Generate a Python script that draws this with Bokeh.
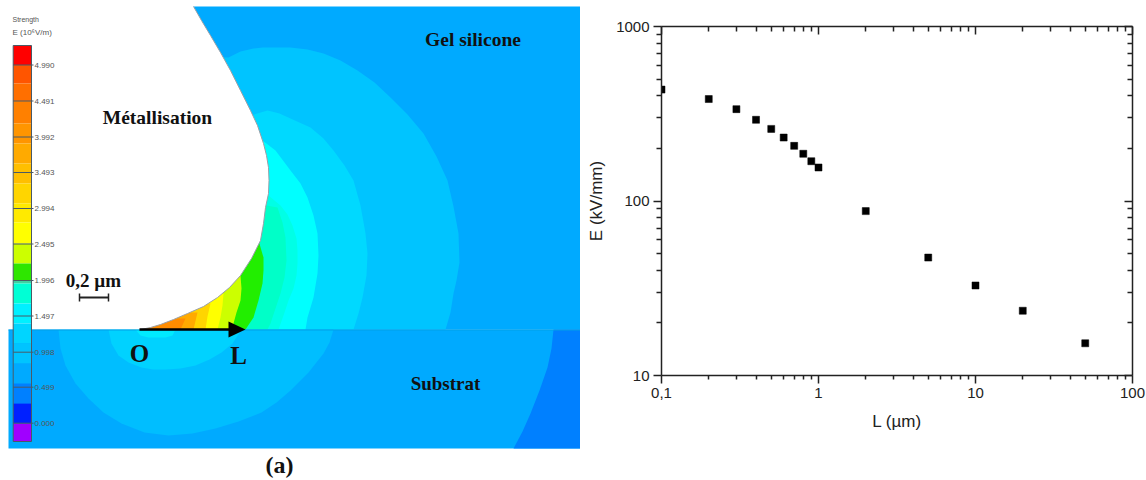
from bokeh.plotting import figure
from bokeh.layouts import row
from bokeh.models import Range1d, LogAxis, FixedTicker, Label
from bokeh.embed import file_html
from bokeh.resources import INLINE

# ---------- panel (b) data ----------
L_um = [0.1, 0.2, 0.3, 0.4, 0.5, 0.6, 0.7, 0.8, 0.9, 1, 2, 5, 10, 20, 50]
E_kV_mm = [435, 384, 336, 292, 259, 231, 207, 186.5, 169, 155.6, 87.5, 47.4, 32.8, 23.5, 15.3]
x_major = [0.1, 1, 10, 100]
x_labels = ["0,1", "1", "10", "100"]
y_major = [10, 100, 1000]
y_labels = ["10", "100", "1000"]
mantissas = [2, 3, 4, 5, 6, 7, 8, 9]

# ---------- panel (a): colour scale ----------
scale_labels = ["4.990", "4.491", "3.992", "3.493", "2.994", "2.495", "1.996", "1.497", "0.998", "0.499", "0.000"]
scale_label_y = [64.5, 100.5, 136.5, 172, 208, 243.5, 280, 315.5, 351.7, 386.7, 422.7]
band_edges = [45, 64.5, 83, 100.5, 123, 143, 163, 183, 203, 222, 243, 263, 280, 283, 303, 323, 343, 363, 383, 403, 423, 441]
band_colors = ["#FF0000", "#FF5500", "#FF6F00", "#FF8000", "#FF9500", "#FFAA00", "#FFBF00", "#FFD500",
               "#FFEA00", "#FFFF00", "#CCFF00", "#2EE600", "#40D0A0", "#00FFD5", "#00F0FF", "#00D5FF",
               "#00C4FF", "#00AAFF", "#0080FF", "#0020FF", "#A000FF"]

# ---------- panel (a): field regions (page pixels) ----------
gel_bands = [
    ("#00C4FF", [(130, 55), (228, 57), (240, 51), (253, 48), (262, 47), (290, 47), (307, 49), (323, 53), (340, 60), (357, 70),
                 (374, 82), (390, 97), (407, 114), (423, 133), (436, 156), (447, 180), (453, 206), (458, 233),
                 (459, 262), (456, 280), (453, 293), (450, 312), (445, 329), (130, 329)]),
    ("#00D9FF", [(130, 115), (250, 115), (267, 110), (279, 113), (290, 118), (310, 127), (323, 138), (333, 150),
                 (344, 165), (353, 180), (360, 205), (365, 233), (367, 253), (366, 275), (362, 297), (358, 313),
                 (353, 329), (130, 329)]),
    ("#00FFFF", [(130, 140), (262, 140), (275, 150), (290, 170), (300, 183), (307, 197), (313, 215), (317, 233),
                 (318, 255), (317, 273), (313, 297), (307, 317), (305, 329), (130, 329)]),
    ("#00FFE6", [(130, 190), (268, 195), (280, 205), (287, 214), (292, 225), (296, 238), (297, 250), (297, 263),
                 (296, 275), (293, 288), (288, 300), (283, 315), (278, 329), (130, 329)]),
    ("#00FFC8", [(130, 205), (266, 205), (277, 207), (282, 222), (285, 237), (286, 260), (284, 277), (280, 293),
                 (275, 308), (270, 323), (267, 329), (130, 329)]),
    ("#22EE00", [(130, 240), (258, 240), (263, 257), (263, 270), (262, 283), (258, 300), (253, 317), (245, 329), (130, 329)]),
    ("#CCFF00", [(130, 275), (240, 275), (241, 288), (240, 300), (236, 312), (233, 323), (232, 329), (130, 329)]),
    ("#FFFF00", [(130, 293), (223, 293), (222, 305), (220, 317), (217, 329), (130, 329)]),
    ("#FFD500", [(130, 303), (210, 303), (207, 316), (205, 329), (130, 329)]),
    ("#FFAA00", [(130, 312), (197, 312), (193, 329), (130, 329)]),
    ("#FF8C00", [(130, 318), (185, 318), (180, 329), (130, 329)]),
]
substrate_bands = [
    ("#0080FF", [(553, 329), (551, 348), (547, 367), (539, 390), (530, 413), (522, 431), (513, 448), (581, 448), (581, 329)]),
    ("#00BEFF", [(58, 329), (60, 348), (65, 365), (75, 383), (88, 398), (103, 412), (121, 423), (144, 432), (168, 435),
                 (192, 433), (215, 428), (238, 421), (261, 412), (276, 402), (290, 390), (308, 372), (323, 353),
                 (329, 342), (333, 329)]),
    ("#00D2FF", [(108, 329), (111, 343), (118, 355), (128, 362), (141, 367), (153, 369), (165, 369), (180, 368),
                 (195, 365), (209, 359), (221, 352), (232, 343), (241, 329)]),
    ("#00EAFF", [(135, 329), (140, 335), (148, 337), (165, 337), (172, 335), (175, 329)]),
]
metal_edge = [(193, 6), (201, 20), (210, 35), (220, 52), (230, 70), (240, 90), (250, 110), (257, 125),
              (263, 143), (266, 155), (268, 167), (268.5, 180), (268, 193), (265, 207), (263, 223), (260, 240),
              (251, 258), (240, 275), (229, 287), (217, 297), (203, 306), (187, 313), (173, 319), (160, 324),
              (150, 327), (140, 329)]
metal_corners = [(7, 329), (7, 5), (193, 5)]

H = 478
a = figure(width=580, height=H, frame_width=580, frame_height=H, x_range=Range1d(0, 580), y_range=Range1d(H, 0),
           x_axis_type=None, y_axis_type=None, toolbar_location=None, output_backend="svg", min_border=0,
           frame_align=False)
a.grid.visible = False
a.outline_line_color = None

a.quad(left=[8], right=[581], top=[6], bottom=[329], fill_color="#00AAFF", line_color=None)
a.quad(left=[8], right=[581], top=[329], bottom=[448], fill_color="#00AAFF", line_color=None)
for color, pts in gel_bands + substrate_bands:
    a.patch([q[0] for q in pts], [q[1] for q in pts], fill_color=color, line_color=None)
metal = metal_edge + metal_corners
a.patch([q[0] for q in metal], [q[1] for q in metal], fill_color="white", line_color=None)
a.line([q[0] for q in metal_edge], [q[1] for q in metal_edge], line_color="#9AA0A8", line_width=1)
a.line([8, 581], [329.5, 329.5], line_color="#00A0E8", line_width=1.2)

# colour scale
a.quad(left=[12.7] * len(band_colors), right=[31] * len(band_colors), top=band_edges[:-1], bottom=band_edges[1:],
       fill_color=band_colors, line_color=None)
a.quad(left=[12.7], right=[31], top=[45], bottom=[441], fill_color=None, line_color="#4A5A66", line_width=1)
for yy, lab in zip(scale_label_y, scale_labels):
    a.line([12.7, 33], [yy, yy], line_color="#4A5A66", line_width=1)
    a.add_layout(Label(x=34, y=yy, text=lab, text_font="Liberation Sans", text_font_size="8px",
                       text_color="#555555", text_baseline="middle"))
a.add_layout(Label(x=12, y=19, text="Strength", text_font="Liberation Sans", text_font_size="7px",
                   text_color="#555555", text_baseline="middle"))
a.add_layout(Label(x=12, y=32, text="E (10\u2076V/m)", text_font="Liberation Sans", text_font_size="8px",
                   text_color="#555555", text_baseline="middle"))

# arrow and scale bar
a.line([139, 232], [329, 329], line_color="black", line_width=2.5)
a.patch([228, 245, 228], [321, 329, 337], fill_color="black", line_color=None)
a.line([79, 108], [297, 297], line_color="#222222", line_width=2)
a.line([79, 79], [293, 301], line_color="#222222", line_width=1.5)
a.line([108, 108], [293, 301], line_color="#222222", line_width=1.5)

serif = [("Métallisation", 157, 117, "19.5px"), ("Gel silicone", 472.5, 39, "19.5px"), ("Substrat", 445, 383, "19px"),
         ("O", 139, 353, "25px"), ("L", 238, 355, "25px"), ("0,2 µm", 93, 280, "19px"), ("(a)", 279, 464, "24px")]
for txt, xx, yy, fs in serif:
    a.add_layout(Label(x=xx, y=yy, text=txt, text_font="Liberation Serif", text_font_style="bold", text_font_size=fs,
                       text_color="#111111", text_align="center", text_baseline="middle"))

# ---------- panel (b) ----------
b = figure(width=566, height=H, x_axis_type="log", y_axis_type="log", x_range=Range1d(0.1, 100), y_range=Range1d(10, 1000),
           toolbar_location=None, output_backend="svg", frame_width=471, frame_height=349,
           min_border_left=81, min_border_right=14, min_border_top=26, min_border_bottom=103,
           x_axis_label="L (µm)", y_axis_label="E (kV/mm)", frame_align=False)
b.grid.visible = False
b.outline_line_color = None
x_minor = [m * t for t in x_major[:-1] for m in mantissas]
y_minor = [m * t for t in y_major[:-1] for m in mantissas]
x_tick = FixedTicker(ticks=x_major, minor_ticks=x_minor)
y_tick = FixedTicker(ticks=y_major, minor_ticks=y_minor)

xa = b.xaxis[0]
ya = b.yaxis[0]
xa.ticker = x_tick
ya.ticker = y_tick
xa.major_label_overrides = dict(zip(x_major, x_labels))
ya.major_label_overrides = dict(zip(y_major, y_labels))
for ax in (xa, ya):
    ax.major_tick_in = 0
    ax.major_tick_out = 8
    ax.minor_tick_in = 0
    ax.minor_tick_out = 5
    ax.axis_line_width = 1.5
    ax.axis_line_color = "#222222"
    ax.major_tick_line_color = "#222222"
    ax.minor_tick_line_color = "#222222"
    ax.major_tick_line_width = 1.5
    ax.minor_tick_line_width = 1.5
    ax.major_label_text_font = "Liberation Sans"
    ax.major_label_text_font_size = "15px"
    ax.major_label_text_color = "#222222"
    ax.axis_label_text_font = "Liberation Sans"
    ax.axis_label_text_font_size = "17px"
    ax.axis_label_text_font_style = "normal"
    ax.axis_label_text_color = "#222222"
    ax.major_label_standoff = 4
xa.axis_label_standoff = 11
xa.minor_tick_out = 4
ya.axis_label_standoff = 7
ya.major_label_orientation = "horizontal"

for side, ticker in (("above", x_tick), ("right", y_tick)):
    ax = LogAxis(ticker=ticker, major_tick_in=8, major_tick_out=0, minor_tick_in=5, minor_tick_out=0,
                 axis_line_width=1.5, axis_line_color="#222222", major_tick_line_color="#222222",
                 minor_tick_line_color="#222222", major_tick_line_width=1.5, minor_tick_line_width=1.5,
                 major_label_text_font_size="0px", major_label_text_color=None, major_label_standoff=0)
    b.add_layout(ax, side)

b.scatter(L_um, E_kV_mm, marker="square", size=7, fill_color="black", line_color="black", line_width=0.5)
b.add_layout(Label(x=1.53, y=3.08, text="(b)", text_font="Liberation Serif", text_font_style="bold", text_font_size="24px",
                   text_color="#111111", text_align="center", text_baseline="middle"))

page = row(a, b, spacing=0)
open("out.html", "w").write(file_html(page, INLINE))
